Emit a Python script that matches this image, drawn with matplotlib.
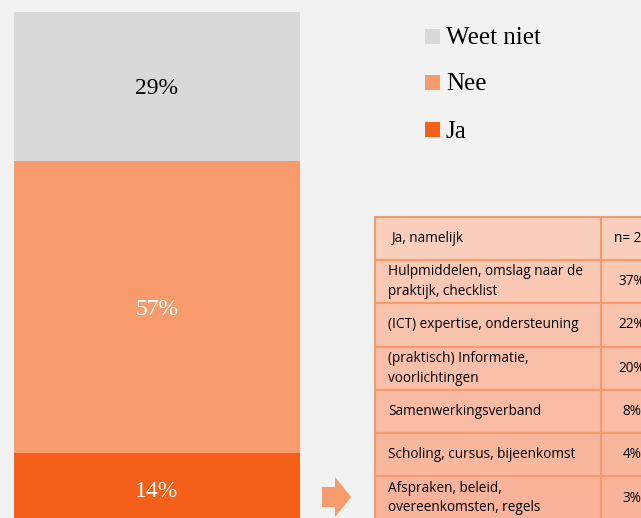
import matplotlib.pyplot as plt
from matplotlib.patches import Rectangle, Polygon

# data
categories = ["Ja", "Nee", "Weet niet"]
values = [14, 57, 29]
colors = ["#f45f1a", "#f79a6c", "#d9d9d9"]
label_colors = ["white", "white", "black"]

table_header = ["Ja, namelijk", "n= 24"]
table_items = [
    "Hulpmiddelen, omslag naar de\npraktijk, checklist",
    "(ICT) expertise, ondersteuning",
    "(praktisch) Informatie,\nvoorlichtingen",
    "Samenwerkingsverband",
    "Scholing, cursus, bijeenkomst",
    "Afspraken, beleid,\novereenkomsten, regels",
]
table_pcts = ["37%", "22%", "20%", "8%", "4%", "3%"]

BG = "#f2f2f2"
W, H = 641, 518

fig = plt.figure(figsize=(W / 100, H / 100), dpi=100, facecolor=BG)

# stacked bar
ax = fig.add_axes([14 / W, 0, 286 / W, 1])
ax.set_facecolor(BG)
bottom = 0
for cat, val, col, lc in zip(categories, values, colors, label_colors):
    ax.bar(0, val, bottom=bottom, width=1, color=col, edgecolor="none")
    ax.text(0, bottom + val / 2, f"{val}%", ha="center", va="center_baseline",
            color=lc, fontsize=17, family="Liberation Serif")
    bottom += val
px = 5.13
ax.set_xlim(-0.5, 0.5)
ax.set_ylim(7 / px, 525 / px)
ax.axis("off")

# overlay for legend, arrow and table (pixel coordinates)
ov = fig.add_axes([0, 0, 1, 1], facecolor="none")
ov.set_xlim(0, W)
ov.set_ylim(H, 0)
ov.axis("off")

# legend
leg_y = [129, 82, 36]
for cat, col, y in zip(categories, colors, leg_y):
    ov.add_patch(Rectangle((425, y - 7.5), 15, 15, color=col, lw=0))
    ov.text(446, y, cat, va="center_baseline", ha="left", fontsize=18,
            family="Liberation Serif", color="black")

# arrow
ov.add_patch(Polygon([(322, 487), (335, 487), (335, 477), (351, 497),
                      (335, 517), (335, 507), (322, 507)],
                     closed=True, color="#f79a6c", lw=0))

# table
x0, x1, x2 = 375, 601, 663
row_edges = [217, 260, 303, 347, 390, 433, 476, 520]
fills = ["#fbcfbd", "#fbc8b3", "#fac3ad", "#fabfa8", "#f9bba3", "#f9b79e", "#f8b39a"]
border = "#f79a6c"
cells = [table_header] + [[a, b] for a, b in zip(table_items, table_pcts)]
for i, (c1, c2) in enumerate(cells):
    top, bot = row_edges[i], row_edges[i + 1]
    ov.add_patch(Rectangle((x0, top), x2 - x0, bot - top, facecolor=fills[i],
                           edgecolor=border, lw=1.5))
    ov.plot([x1, x1], [top, bot], color=border, lw=1.5)
    ym = (top + bot) / 2
    ov.text(391 if i == 0 else 388, ym, c1, ha="left", va="center",
            fontsize=9.8, family="Open Sans", color="black", linespacing=1.45)
    ov.text((x1 + x2) / 2, ym, c2, ha="center", va="center",
            fontsize=9.8, family="Open Sans", color="black")

fig.savefig("out.png", dpi=100, facecolor=BG)
